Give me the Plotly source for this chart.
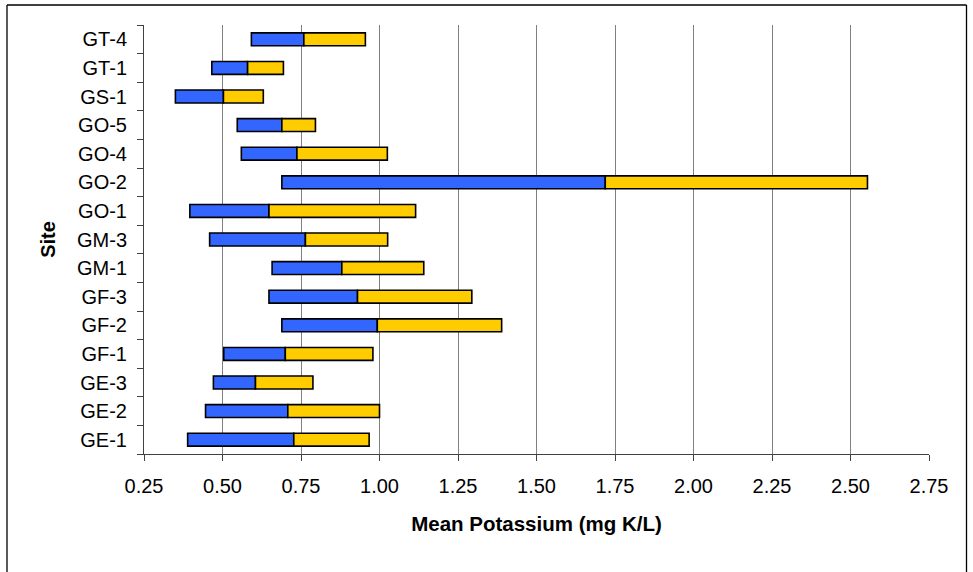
import plotly.graph_objects as go

sites = ["GE-1", "GE-2", "GE-3", "GF-1", "GF-2", "GF-3", "GM-1", "GM-3",
         "GO-1", "GO-2", "GO-4", "GO-5", "GS-1", "GT-1", "GT-4"]
low = [0.389, 0.446, 0.471, 0.504, 0.689, 0.648, 0.658, 0.459,
       0.396, 0.689, 0.560, 0.547, 0.350, 0.466, 0.592]
mean = [0.727, 0.708, 0.605, 0.700, 0.993, 0.930, 0.880, 0.764,
        0.648, 1.719, 0.737, 0.689, 0.503, 0.580, 0.759]
high = [0.967, 1.000, 0.788, 0.979, 1.389, 1.294, 1.141, 1.026,
        1.115, 2.554, 1.025, 0.796, 0.630, 0.694, 0.955]
x_ticks = [0.25, 0.50, 0.75, 1.00, 1.25, 1.50, 1.75, 2.00, 2.25, 2.50, 2.75]
x_ticklabels = ["0.25", "0.50", "0.75", "1.00", "1.25", "1.50", "1.75",
                "2.00", "2.25", "2.50", "2.75"]

font_family = "Liberation Sans, Arial, sans-serif"

fig = go.Figure()
fig.add_trace(go.Bar(
    y=sites, x=[m - l for m, l in zip(mean, low)], base=low,
    orientation="h", marker=dict(color="#3366FF", line=dict(color="#000000", width=1.6)),
    showlegend=False, hoverinfo="skip"))
fig.add_trace(go.Bar(
    y=sites, x=[h - m for h, m in zip(high, mean)], base=mean,
    orientation="h", marker=dict(color="#FFCC00", line=dict(color="#000000", width=1.6)),
    showlegend=False, hoverinfo="skip"))

PL, PR, PT, PB = 144, 929, 25, 454  # plot area edges in pixels
W, H = 973, 572
FL, FR, FT = 7, 966.5, 5  # outer frame edges in pixels


def px_x(p):
    return (p - PL) / (PR - PL)


def px_y(p):
    return (PB - p) / (PB - PT)


frame_style = dict(color="#000000", width=1.3)

fig.update_layout(
    width=W, height=H,
    margin=dict(l=PL, r=W - PR, t=PT, b=H - PB),
    paper_bgcolor="white", plot_bgcolor="white",
    barmode="overlay", bargap=0.55,
    font=dict(family=font_family, size=20, color="#000000"),
    xaxis=dict(
        range=[0.25, 2.75], tickvals=x_ticks, ticktext=x_ticklabels,
        showgrid=True, gridcolor="#808080", gridwidth=1,
        showline=True, linecolor="#404040", linewidth=1,
        ticks="outside", ticklen=6, tickcolor="#404040",
        ticklabelstandoff=8,
        zeroline=False,
        title=dict(text="<b>Mean Potassium (mg K/L)</b>", font=dict(size=20.5), standoff=20),
    ),
    yaxis=dict(
        type="category", categoryorder="array", categoryarray=sites,
        showgrid=False, showline=True, linecolor="#404040", linewidth=1,
        ticks="outside", ticklen=6, tickcolor="#404040", tickson="boundaries",
        ticklabelstandoff=12,
        title=dict(text="<b>Site</b>", font=dict(size=20), standoff=16),
    ),
    shapes=[
        dict(type="line", xref="paper", yref="paper",
             x0=px_x(FL), x1=px_x(FR), y0=px_y(FT), y1=px_y(FT), line=frame_style),
        dict(type="line", xref="paper", yref="paper",
             x0=px_x(FL), x1=px_x(FL), y0=px_y(FT), y1=px_y(H + 10), line=frame_style),
        dict(type="line", xref="paper", yref="paper",
             x0=px_x(FR), x1=px_x(FR), y0=px_y(FT), y1=px_y(H + 10), line=frame_style),
    ],
)

fig.write_html("out.html",
               config={"displayModeBar": False},
               post_script="document.body.style.margin='0';document.body.style.padding='0';")
